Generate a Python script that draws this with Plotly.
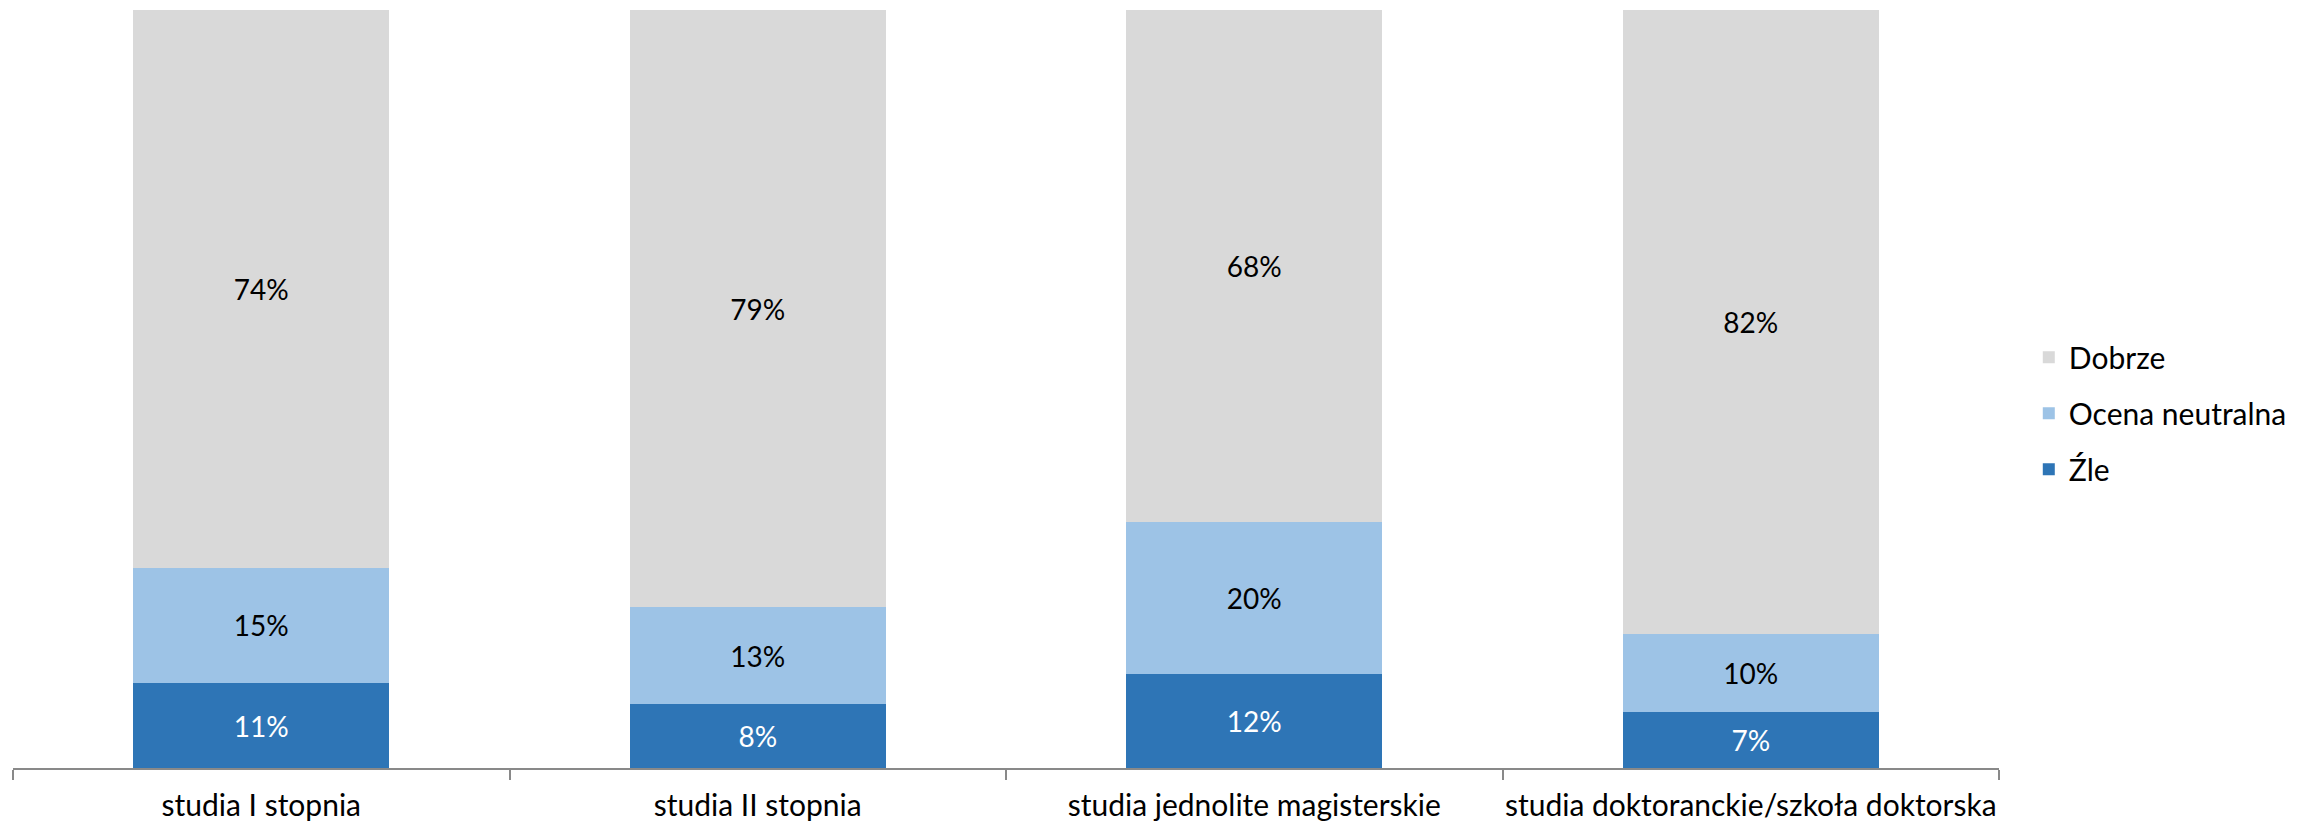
import plotly.graph_objects as go

categories = ["studia I stopnia", "studia II stopnia", "studia jednolite magisterskie",
              "studia doktoranckie/szkoła doktorska"]
zle = [11.2, 8.4, 12.4, 7.4]
neutralna = [15.2, 12.8, 20.0, 10.3]
dobrze = [73.6, 78.8, 67.6, 82.3]

series_names = ["Źle", "Ocena neutralna", "Dobrze"]
series_values = [zle, neutralna, dobrze]
series_colors = ["#2E75B6", "#9DC3E6", "#D9D9D9"]
text_colors = ["#FFFFFF", "#000000", "#000000"]
legend_ranks = [3, 2, 1]

FONT = "Lato, 'Open Sans', sans-serif"

fig = go.Figure()
for name, vals, col, tcol, rank in zip(series_names, series_values, series_colors,
                                       text_colors, legend_ranks):
    fig.add_trace(go.Bar(
        x=categories, y=vals, name=name, legendgroup=name, legendrank=rank,
        marker=dict(color=col, line=dict(width=0)),
        texttemplate="%{y:.0f}%", textposition="inside",
        insidetextanchor="middle", textangle=0,
        textfont=dict(color=tcol, size=28, family=FONT),
        hoverinfo="skip",
    ))

# page body has an 8px margin, so the figure is sized/offset to compensate
fig.update_layout(
    barmode="stack",
    bargap=0.484,
    width=2300, height=818,
    margin=dict(l=5, r=309, t=2, b=58),
    paper_bgcolor="white", plot_bgcolor="white",
    font=dict(family=FONT, size=30, color="#000000"),
    legend=dict(
        x=1.015, xanchor="left", y=0.468, yanchor="middle",
        traceorder="grouped", tracegroupgap=14,
        font=dict(size=30, family=FONT, color="#000000"),
        bgcolor="rgba(0,0,0,0)",
    ),
    showlegend=True,
)
fig.update_xaxes(
    type="category", range=[-0.5, 3.5],
    showline=True, linecolor="#898989", linewidth=2,
    ticks="outside", tickson="boundaries", ticklen=10, tickcolor="#898989", tickwidth=2,
    tickfont=dict(size=30, family=FONT, color="#000000"),
    tickangle=0,
    ticklabelstandoff=10,
    automargin=False,
    showgrid=False, zeroline=False,
)
fig.update_yaxes(range=[0, 100], visible=False, showgrid=False, zeroline=False,
                 automargin=False)

fig.write_html("out.html")
